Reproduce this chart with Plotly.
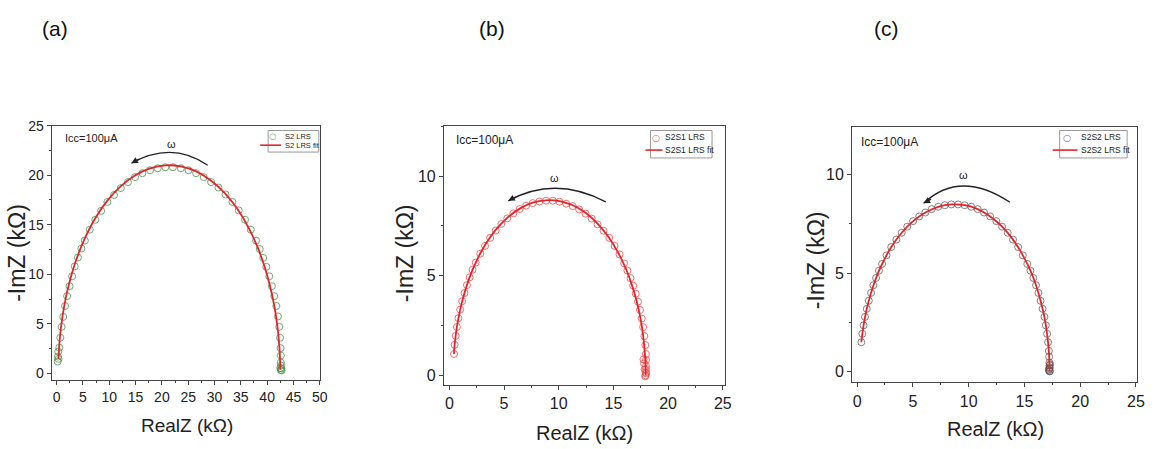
import plotly.graph_objects as go

# ---------------- data (kOhm) ----------------
a_x = [0.20, 0.25, 0.30, 0.35, 0.50, 0.70, 0.95, 1.25, 1.60, 2.00, 2.45, 2.95, 3.45, 4.05, 4.70, 5.35,
       6.30, 7.35, 8.45, 9.65, 10.9, 12.2, 13.55, 14.9, 16.3, 17.75, 19.2, 20.65, 22.1, 23.6, 25.05,
       26.5, 27.95, 29.35, 30.75, 32.1, 33.4, 34.6, 35.8, 36.9, 37.9, 38.6, 39.25, 39.85, 40.4, 40.9,
       41.35, 41.75, 42.05, 42.3, 42.45, 42.55, 42.6, 42.6, 42.65, 42.7, 42.6, 42.75, 42.5]
a_y = [1.2, 1.7, 2.2, 1.47, 2.6, 3.6, 4.7, 5.7, 6.8, 7.8, 8.8, 9.8, 10.8, 11.7, 12.6, 13.4,
       14.5, 15.5, 16.4, 17.3, 18.0, 18.7, 19.3, 19.8, 20.2, 20.5, 20.7, 20.8, 20.8, 20.7, 20.5,
       20.2, 19.8, 19.3, 18.75, 18.05, 17.3, 16.45, 15.5, 14.5, 13.4, 12.55, 11.65, 10.75, 9.8, 8.8,
       7.8, 6.8, 5.75, 4.7, 3.6, 2.55, 1.8, 1.1, 0.8, 0.5, 0.35, 0.3, 0.55]
a_fit_x = [0.35, 0.62, 1.12, 1.84, 2.77, 3.91, 5.24, 7.28, 9.60, 12.15, 14.88, 17.74, 20.66, 23.60,
           26.50, 29.30, 31.95, 34.39, 36.58, 38.25, 39.49, 40.52, 41.35, 41.96, 42.34, 42.47, 42.50]
a_fit_y = [1.47, 3.65, 5.79, 7.87, 9.86, 11.74, 13.50, 15.61, 17.41, 18.87, 19.97, 20.68, 20.99, 20.88,
           20.38, 19.47, 18.19, 16.55, 14.59, 12.64, 10.82, 8.87, 6.84, 4.73, 2.56, 1.10, 0.37]

b_x = [0.42, 0.48, 0.58, 0.69, 0.83, 0.99, 1.17, 1.38, 1.61, 1.85, 2.12, 2.41, 2.82, 3.26, 3.73, 4.23,
       4.75, 5.29, 5.85, 6.43, 7.02, 7.62, 8.23, 8.84, 9.46, 10.07, 10.68, 11.28, 11.87, 12.45, 13.01,
       13.55, 14.10, 14.62, 15.10, 15.56, 15.98, 16.28, 16.56, 16.81, 17.04, 17.25, 17.43, 17.59, 17.72,
       17.83, 17.92, 17.97, 17.98, 17.98, 17.97, 17.96, 17.95, 17.80, 17.85, 18.00, 17.90, 17.75]
b_y = [1.07, 1.53, 1.98, 2.43, 2.87, 3.30, 3.72, 4.13, 4.53, 4.92, 5.30, 5.66, 6.11, 6.50, 6.90, 7.27,
       7.60, 7.88, 8.13, 8.35, 8.52, 8.65, 8.73, 8.77, 8.77, 8.72, 8.62, 8.50, 8.33, 8.12, 7.87,
       7.58, 7.26, 6.90, 6.50, 6.07, 5.62, 5.26, 4.88, 4.50, 4.10, 3.70, 3.28, 2.85, 2.42,
       1.97, 1.52, 1.07, 0.77, 0.46, 0.31, 0.15, 0.00, 0.60, 0.30, 0.10, -0.05, 0.80]
b_fit_x = [0.42, 0.48, 0.69, 0.99, 1.38, 1.85, 2.41, 3.26, 4.23, 5.29, 6.43, 7.62, 8.84, 10.07,
           11.28, 12.45, 13.55, 14.57, 15.48, 16.18, 16.69, 17.13, 17.47, 17.72, 17.88, 17.94, 17.95]
b_fit_y = [1.07, 1.53, 2.43, 3.30, 4.13, 4.92, 5.66, 6.54, 7.30, 7.91, 8.37, 8.67, 8.79, 8.75,
           8.54, 8.16, 7.62, 6.93, 6.11, 5.30, 4.53, 3.72, 2.87, 1.98, 1.07, 0.46, 0.00]

c_x = [0.38, 0.47, 0.58, 0.71, 0.87, 1.05, 1.25, 1.46, 1.70, 1.96, 2.24, 2.64, 3.06, 3.52, 4.00, 4.50,
       5.02, 5.57, 6.12, 6.69, 7.27, 7.86, 8.45, 9.05, 9.64, 10.23, 10.81, 11.38, 11.93, 12.48, 13.00,
       13.50, 13.98, 14.44, 14.86, 15.26, 15.54, 15.80, 16.04, 16.25, 16.45, 16.63, 16.79, 16.92, 17.03,
       17.12, 17.19, 17.22, 17.24, 17.25, 17.25, 17.25, 17.20, 17.25, 17.30, 17.20, 17.28]
c_y = [1.48, 1.91, 2.34, 2.77, 3.18, 3.59, 3.99, 4.38, 4.75, 5.12, 5.46, 5.90, 6.32, 6.70, 7.05, 7.36,
       7.64, 7.88, 8.08, 8.25, 8.37, 8.45, 8.49, 8.49, 8.45, 8.37, 8.25, 8.08, 7.88, 7.64, 7.36,
       7.05, 6.70, 6.32, 5.90, 5.46, 5.12, 4.75, 4.38, 3.99, 3.59, 3.18, 2.77, 2.34, 1.91,
       1.48, 1.04, 0.74, 0.44, 0.30, 0.15, 0.00, 0.05, 0.20, 0.35, 0.10, 0.00]
c_fit_x = [0.38, 0.58, 0.87, 1.25, 1.70, 2.24, 3.06, 4.00, 5.02, 6.12, 7.27, 8.45, 9.64, 10.81,
           11.93, 13.00, 13.98, 14.86, 15.54, 16.04, 16.45, 16.79, 17.03, 17.19, 17.24, 17.25]
c_fit_y = [1.48, 2.34, 3.18, 3.99, 4.75, 5.46, 6.32, 7.05, 7.64, 8.08, 8.37, 8.49, 8.45, 8.25,
           7.88, 7.36, 6.70, 5.90, 5.12, 4.38, 3.59, 2.77, 1.91, 1.04, 0.44, 0.00]

panel_labels = ["(a)", "(b)", "(c)"]
data_names = ["S2 LRS", "S2S1 LRS", "S2S2 LRS"]
fit_names = ["S2 LRS fit", "S2S1 LRS fit", "S2S2 LRS fit"]
note_text = "Icc=100μA"

FONT = "Liberation Sans"
RED = "#e3262b"
MCOLS = ["rgba(70,140,70,0.85)", "rgba(235,70,70,0.85)", "rgba(90,80,80,0.8)"]

fig = go.Figure()

panels = [
    dict(x=a_x, y=a_y, fx=a_fit_x, fy=a_fit_y, xa="x", ya="y"),
    dict(x=b_x, y=b_y, fx=b_fit_x, fy=b_fit_y, xa="x2", ya="y2"),
    dict(x=c_x, y=c_y, fx=c_fit_x, fy=c_fit_y, xa="x3", ya="y3"),
]
for i, p in enumerate(panels):
    fig.add_trace(go.Scatter(x=p["x"], y=p["y"], mode="markers", name=data_names[i],
                             marker=dict(symbol="circle-open", size=7, color=MCOLS[i], line=dict(width=0.9)),
                             xaxis=p["xa"], yaxis=p["ya"], showlegend=False))
    fig.add_trace(go.Scatter(x=p["fx"], y=p["fy"], mode="lines", name=fit_names[i],
                             line=dict(color=RED, width=1.8, shape="spline"),
                             xaxis=p["xa"], yaxis=p["ya"], showlegend=False))

W, H = 1158, 449
def px(x):
    return x / W
def py(y):
    return (H - y) / H

axcommon = dict(showline=True, linecolor="#444", linewidth=1, mirror=True, ticks="outside",
                ticklen=4, tickcolor="#444", showgrid=False, zeroline=False)
minor = dict(ticks="outside", ticklen=2, dtick=2.5, tickcolor="#444")

fig.update_layout(
    width=W, height=H, margin=dict(l=0, r=0, t=0, b=0),
    paper_bgcolor="white", plot_bgcolor="white",
    showlegend=False,
    xaxis=dict(domain=[px(52), px(322)], range=[-0.95, 50], dtick=5, anchor="y", minor=minor,
               tickfont=dict(family=FONT, color="#222", size=14), **axcommon),
    yaxis=dict(domain=[py(380), py(120)], range=[-0.7, 25], dtick=5, anchor="x", minor=minor,
               tickfont=dict(family=FONT, color="#222", size=14), **axcommon),
    xaxis2=dict(domain=[px(447), px(730)], range=[-0.5, 25.2], dtick=5, anchor="y2", minor=minor,
                tickfont=dict(family=FONT, color="#222", size=16), **axcommon),
    yaxis2=dict(domain=[py(385), py(120)], range=[-0.5, 12.54], dtick=5, anchor="x2", minor=minor,
                tickfont=dict(family=FONT, color="#222", size=16), **axcommon),
    xaxis3=dict(domain=[px(858), px(1145)], range=[-0.45, 25.1], dtick=5, anchor="y3", minor=minor,
                tickfont=dict(family=FONT, color="#222", size=16), **axcommon),
    yaxis3=dict(domain=[py(382), py(121)], range=[-0.56, 12.45], dtick=5, anchor="x3", minor=minor,
                tickfont=dict(family=FONT, color="#222", size=16), **axcommon),
)

ann = []
shapes = []
# panel labels
for lab, xc in zip(panel_labels, [55, 495, 893]):
    ann.append(dict(text=lab, x=px(xc), y=py(21), xref="paper", yref="paper", showarrow=False,
                    font=dict(family=FONT, size=21, color="#111"), xanchor="center", yanchor="middle"))
# axis titles
xt = [(188, 426, 19), (589, 434, 20), (1002, 430, 20)]
yt = [(17, 250, 23), (408, 250, 23), (822, 257, 23)]
for (x0, y0, s) in xt:
    ann.append(dict(text="RealZ (kΩ)", x=px(x0), y=py(y0), xref="paper", yref="paper", showarrow=False,
                    font=dict(family=FONT, size=s, color="#222"), xanchor="center", yanchor="middle"))
for (x0, y0, s) in yt:
    ann.append(dict(text="-ImZ (kΩ)", x=px(x0), y=py(y0), xref="paper", yref="paper", showarrow=False,
                    textangle=-90, font=dict(family=FONT, size=s, color="#222"),
                    xanchor="center", yanchor="middle"))
# Icc notes
for (x0, y0, s) in [(63, 133, 11), (457, 135, 12), (865, 137, 12)]:
    ann.append(dict(text=note_text, x=px(x0), y=py(y0), xref="paper", yref="paper", showarrow=False,
                    font=dict(family=FONT, size=s, color="#222"), xanchor="left", yanchor="middle"))

# compact legends: (box left, box top, box right, box bottom, line x0, line x1, text x, row1 y, row2 y, font)
legs = [
    (270, 125, 321, 147, 262, 283, 285, 131, 140, 7.5),
    (655, 125, 717, 153, 650, 667, 668, 132, 145, 8.5),
    (1067, 125, 1135, 153, 1060, 1085, 1087, 132, 145, 8.5),
]
for i, (bl, bt, br, bb, l0, l1, tx, r1, r2, fs) in enumerate(legs):
    shapes.append(dict(type="rect", xref="paper", yref="paper", x0=px(bl), x1=px(br), y0=py(bb), y1=py(bt),
                       line=dict(color="#999", width=1), fillcolor="white", layer="above"))
    shapes.append(dict(type="line", xref="paper", yref="paper", x0=px(l0), x1=px(l1), y0=py(r2), y1=py(r2),
                       line=dict(color=RED, width=1.6), layer="above"))
    ann.append(dict(text="○", x=px((l0 + l1) / 2 + 2), y=py(r1), xref="paper", yref="paper", showarrow=False,
                    font=dict(family="DejaVu Sans", size=fs + 1, color=MCOLS[i]), xanchor="center",
                    yanchor="middle"))
    ann.append(dict(text=data_names[i], x=px(tx), y=py(r1), xref="paper", yref="paper", showarrow=False,
                    font=dict(family=FONT, size=fs, color="#222"), xanchor="left", yanchor="middle"))
    ann.append(dict(text=fit_names[i], x=px(tx), y=py(r2), xref="paper", yref="paper", showarrow=False,
                    font=dict(family=FONT, size=fs, color="#222"), xanchor="left", yanchor="middle"))

# omega arrows: (start, control, end, omega position) in data coords
arcs = [
    ("x", "y", (28.7, 21.0), (21.9, 23.5), (14.2, 21.2), (21.9, 23.1), 11),
    ("x2", "y2", (14.3, 8.71), (9.65, 10.05), (5.39, 8.76), (9.57, 9.89), 11),
    ("x3", "y3", (13.7, 8.60), (9.21, 10.28), (5.96, 8.55), (9.52, 10.0), 11),
]
for xa, ya, s, c, e, w, fs in arcs:
    shapes.append(dict(type="path", xref=xa, yref=ya,
                       path=f"M {s[0]},{s[1]} Q {c[0]},{c[1]} {e[0]},{e[1]}",
                       line=dict(color="#222", width=1.3)))
    ann.append(dict(x=e[0], y=e[1], xref=xa, yref=ya, ax=9, ay=-5, axref="pixel", ayref="pixel",
                    text="", showarrow=True, arrowhead=2, arrowsize=1, arrowwidth=1.3,
                    arrowcolor="#222"))
    ann.append(dict(text="ω", x=w[0], y=w[1], xref=xa, yref=ya, showarrow=False,
                    font=dict(family=FONT, size=fs, color="#222"), xanchor="center", yanchor="middle"))

fig.update_layout(annotations=ann, shapes=shapes)
fig.write_html("out.html")
